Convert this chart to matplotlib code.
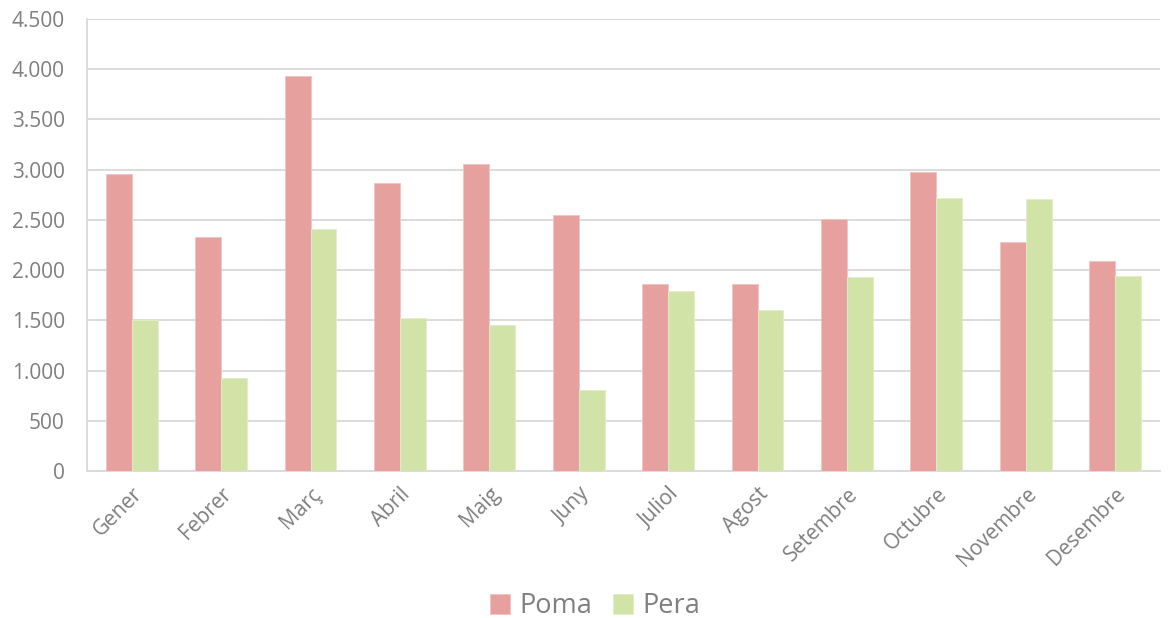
import numpy as np
import matplotlib
matplotlib.use("Agg")
import matplotlib.pyplot as plt
from matplotlib.ticker import FuncFormatter, MultipleLocator

plt.rcParams['font.family'] = ['Open Sans', 'DejaVu Sans']

# dades
mesos = ['Gener', 'Febrer', 'Març', 'Abril', 'Maig', 'Juny', 'Juliol',
         'Agost', 'Setembre', 'Octubre', 'Novembre', 'Desembre']
poma = [2960, 2330, 3930, 2870, 3060, 2550, 1860, 1860, 2510, 2980, 2280, 2090]
pera = [1500, 930, 2410, 1520, 1450, 810, 1790, 1600, 1930, 2720, 2710, 1940]

color_poma = '#E6A19E'
color_pera = '#D1E3A7'
gris = '#7F7F7F'

fig = plt.figure(figsize=(11.74, 6.18), dpi=100)
ax = fig.add_axes([0.0741, 0.2379, 0.9139, 0.7314])

x = np.arange(len(mesos))
w = 0.29
ax.bar(x - w / 2, poma, w, color=color_poma, edgecolor='#F0C4C2', linewidth=0.6, label='Poma', zorder=3)
ax.bar(x + w / 2, pera, w, color=color_pera, edgecolor='#E2EEC8', linewidth=0.6, label='Pera', zorder=3)

ax.set_xlim(-0.5, len(mesos) - 0.5)
ax.set_ylim(0, 4500)
ax.yaxis.set_major_locator(MultipleLocator(500))
ax.yaxis.set_major_formatter(FuncFormatter(lambda v, p: f'{int(v):,}'.replace(',', '.')))
ax.grid(axis='y', color='#D9D9D9', linewidth=1.3, zorder=0)

for s in ['top', 'right']:
    ax.spines[s].set_visible(False)
ax.spines['left'].set_color('#D9D9D9')
ax.spines['left'].set_linewidth(1.3)
ax.spines['bottom'].set_color('#D9D9D9')
ax.spines['bottom'].set_linewidth(1.3)

ax.set_xticks(x)
ax.set_xticklabels(mesos, rotation=45, ha='right', rotation_mode='anchor')
ax.tick_params(axis='both', length=0, labelcolor=gris, labelsize=15)
ax.tick_params(axis='x', pad=9)
ax.tick_params(axis='y', pad=16)

# llegenda a sota, una mica desplaçada a la dreta com a l'original
leg = fig.legend(loc='lower center', bbox_to_anchor=(0.507, -0.043), ncol=2, frameon=False,
                 fontsize=19.5, handlelength=0.75, handleheight=0.75, handletextpad=0.35,
                 columnspacing=0.75)
for t in leg.get_texts():
    t.set_color(gris)

fig.savefig('out.png', dpi=100)
